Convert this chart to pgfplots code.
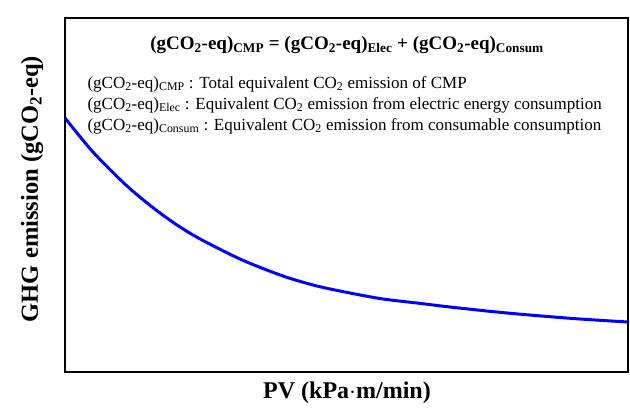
\documentclass[border=0pt]{standalone}
\usepackage{pgfplots}
\pgfplotsset{compat=1.18}
\usepackage{fontspec}
\setmainfont{Liberation Serif}
\begin{document}
\begin{tikzpicture}
\useasboundingbox (0,0) rectangle (630bp,410bp);
\begin{axis}[
  at={(65bp,38bp)}, anchor=south west,
  scale only axis, width=563bp, height=354bp,
  xmin=65, xmax=628, ymin=18, ymax=372, y dir=reverse,
  xtick=\empty, ytick=\empty,
  axis line style={line width=2.5bp, black},
  clip=false,
  xlabel={\bfseries PV (kPa$\cdot$m/min)},
  xlabel style={at={(axis cs:347,393)}, anchor=center, font=\fontsize{24bp}{28bp}\selectfont},
  ylabel={\bfseries GHG emission (gCO\textsubscript{2}-eq)},
  ylabel style={at={(axis cs:32,189)}, anchor=center, font=\fontsize{24.5bp}{28bp}\selectfont},
]
\addplot[blue, line width=3bp, smooth] coordinates {
(65,118) (93,152) (127,186) (160,213) (193,235) (240,259) (283,276) (317,286)
(350,293) (383,299) (417,303) (450,307) (507,313) (573,318.5) (628,322)
};
\node[anchor=center, font=\fontsize{19bp}{22bp}\selectfont\bfseries] at (axis cs:347,45)
 {(gCO\textsubscript{2}-eq)\textsubscript{CMP} = (gCO\textsubscript{2}-eq)\textsubscript{Elec} + (gCO\textsubscript{2}-eq)\textsubscript{Consum}};
\node[anchor=west, font=\fontsize{17bp}{20bp}\selectfont] at (axis cs:84,84)
 {(gCO\textsubscript{2}-eq)\textsubscript{CMP} : Total equivalent CO\textsubscript{2} emission of CMP};
\node[anchor=west, font=\fontsize{17bp}{20bp}\selectfont] at (axis cs:84,105)
 {(gCO\textsubscript{2}-eq)\textsubscript{Elec} : Equivalent CO\textsubscript{2} emission from electric energy consumption};
\node[anchor=west, font=\fontsize{17bp}{20bp}\selectfont] at (axis cs:84,126)
 {(gCO\textsubscript{2}-eq)\textsubscript{Consum} : Equivalent CO\textsubscript{2} emission from consumable consumption};
\end{axis}
\end{tikzpicture}
\end{document}
